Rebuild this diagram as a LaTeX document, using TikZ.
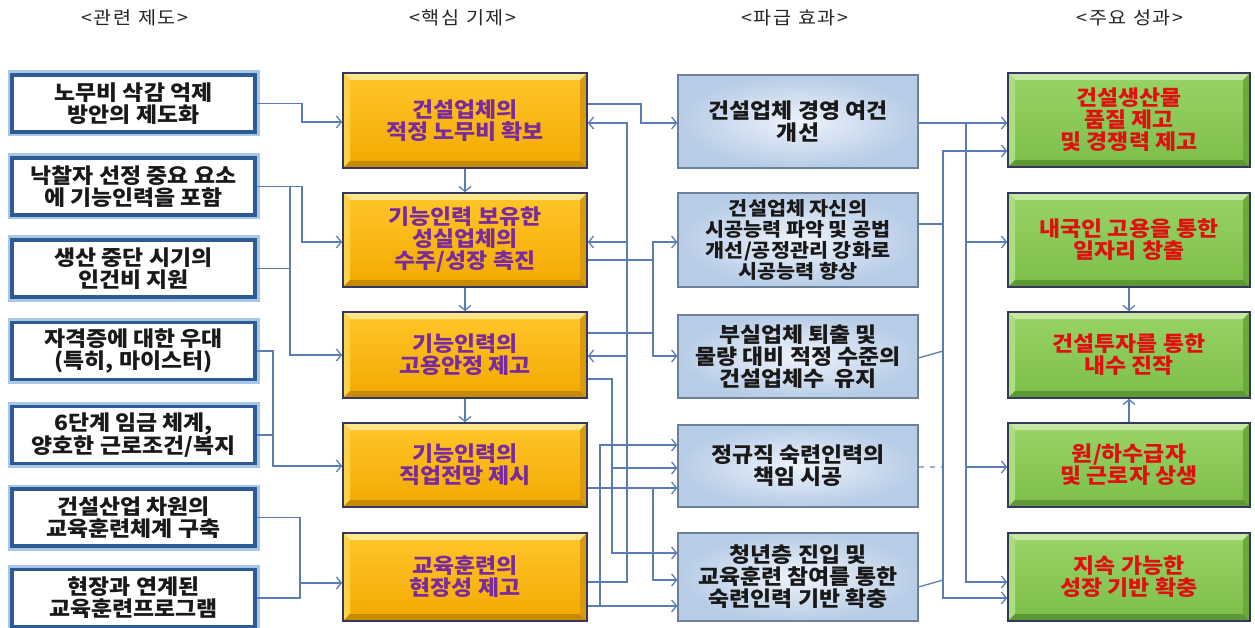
\documentclass[tikz,border=0pt]{standalone}
\usepackage{fontspec}
\setmainfont{Noto Sans CJK KR}
\newfontfamily\krw{Noto Sans CJK KR}[FakeStretch=1.09]
\newfontfamily\hdrfont{Noto Sans CJK KR}[FakeStretch=1.09, LetterSpace=10]
\usetikzlibrary{arrows.meta}
\definecolor{lnk}{HTML}{5A7DB5}
\definecolor{c1bd}{HTML}{2F5B95}
\definecolor{c1gl}{HTML}{A9C8E8}
\definecolor{orA}{HTML}{FFC62A}
\definecolor{orB}{HTML}{F2A900}
\definecolor{orT}{HTML}{FFE68C}
\definecolor{orL}{HTML}{FFD24A}
\definecolor{orBo}{HTML}{C78A00}
\definecolor{orR}{HTML}{D99A10}
\definecolor{grA}{HTML}{98D466}
\definecolor{grB}{HTML}{7DBE4A}
\definecolor{grT}{HTML}{C6E8A2}
\definecolor{grL}{HTML}{AEDD80}
\definecolor{grBo}{HTML}{5E9834}
\definecolor{grR}{HTML}{6CA83E}
\definecolor{navy}{HTML}{33395E}
\definecolor{blIn}{HTML}{EDF3FB}
\definecolor{blOut}{HTML}{B7CCE6}
\definecolor{blBd}{HTML}{6E7F99}
\definecolor{purp}{HTML}{7A2A9E}
\definecolor{redt}{HTML}{E01010}
\begin{document}
\begin{tikzpicture}[x=1pt,y=-1pt,
  txt/.style={font=\krw\bfseries\fontsize{21}{22}\selectfont, align=center, inner sep=0pt},
  bevel/.style n args={4}{path picture={
    \coordinate (NW) at (path picture bounding box.north west);
    \coordinate (NE) at (path picture bounding box.north east);
    \coordinate (SW) at (path picture bounding box.south west);
    \coordinate (SE) at (path picture bounding box.south east);
    \fill[#1] (NW) -- (NE) -- ([xshift=-7pt,yshift=-7pt]NE) -- ([xshift=7pt,yshift=-7pt]NW) -- cycle;
    \fill[#2] (NW) -- ([xshift=7pt,yshift=-7pt]NW) -- ([xshift=7pt,yshift=7pt]SW) -- (SW) -- cycle;
    \fill[#3] (SW) -- ([xshift=7pt,yshift=7pt]SW) -- ([xshift=-7pt,yshift=7pt]SE) -- (SE) -- cycle;
    \fill[#4] (SE) -- ([xshift=-7pt,yshift=7pt]SE) -- ([xshift=-7pt,yshift=-7pt]NE) -- (NE) -- cycle;
  }},
  colone/.style={txt, rectangle, minimum width=243pt, minimum height=57pt, fill=white,
    draw=c1bd, line width=3.5pt, preaction={draw=c1gl, line width=9pt}, text=black!90},
  orbox/.style={txt, rectangle, minimum width=244pt, top color=orA, bottom color=orB,
    bevel={orT}{orL}{orBo}{orR}, draw=navy, line width=1.6pt, text=purp},
  blbox/.style={txt, rectangle, minimum width=240pt, inner color=blIn, outer color=blOut,
    draw=blBd, line width=1.2pt, text=black!90},
  grbox/.style={txt, rectangle, minimum width=242pt, top color=grA, bottom color=grB,
    bevel={grT}{grL}{grBo}{grR}, draw=navy, line width=1.6pt, text=redt},
  hdr/.style={font=\hdrfont\fontsize{18}{20}\selectfont, text=black!85, inner sep=0pt},
  ln/.style={draw=lnk, line width=1.3pt},
  conn/.style={ln, -{Straight Barb[length=5pt,width=12pt]}}
]
\useasboundingbox[fill=white] (0,0) rectangle (1255,628);

% headers
\node[hdr] (h1) at (135,18) {<관련 제도>};
\node[hdr] (h2) at (463,18) {<핵심 기제>};
\node[hdr] (h3) at (795,18) {<파급 효과>};
\node[hdr] (h4) at (1130,18) {<주요 성과>};

% column 1
\node[colone] (c1) at (133.5,103.5) {노무비 삭감 억제\\방안의 제도화};
\node[colone] (c2) at (133.5,186.5) {낙찰자 선정 중요 요소\\에 기능인력을 포함};
\node[colone] (c3) at (133.5,268.5) {생산 중단 시기의\\인건비 지원};
\node[colone] (c4) at (133.5,351) {자격증에 대한 우대\\(특히, 마이스터)};
\node[colone] (c5) at (133.5,435) {6단계 임금 체계,\\양호한 근로조건/복지};
\node[colone] (c6) at (133.5,517.5) {건설산업 차원의\\교육훈련체계 구축};
\node[colone] (c7) at (133.5,598) {현장과 연계된\\교육훈련프로그램};

% column 2
\node[orbox, minimum height=95pt] (o1) at (465,120.5) {건설업체의\\적정 노무비 확보};
\node[orbox, minimum height=94pt] (o2) at (465,240) {기능인력 보유한\\성실업체의\\수주/성장 촉진};
\node[orbox, minimum height=86pt] (o3) at (465,355) {기능인력의\\고용안정 제고};
\node[orbox, minimum height=84pt] (o4) at (465,465) {기능인력의\\직업전망 제시};
\node[orbox, minimum height=88pt] (o5) at (465,577) {교육훈련의\\현장성 제고};

% column 3
\node[blbox, minimum height=93pt] (b1) at (798,121.5) {건설업체 경영 여건\\개선};
\node[blbox, minimum height=94pt, font=\krw\bfseries\fontsize{19}{21}\selectfont] (b2) at (798,240) {건설업체 자신의\\시공능력 파악 및 공법\\개선/공정관리 강화로\\시공능력 향상};
\node[blbox, minimum height=83pt] (b3) at (798,356.5) {부실업체 퇴출 및\\물량 대비 적정 수준의\\건설업체수~~유지};
\node[blbox, minimum height=82pt] (b4) at (798,466) {정규직 숙련인력의\\책임 시공};
\node[blbox, minimum height=88pt] (b5) at (798,577) {청년층 진입 및\\교육훈련 참여를 통한\\숙련인력 기반 확충};

% column 4
\node[grbox, minimum height=94pt] (g1) at (1129,120) {건설생산물\\품질 제고\\및 경쟁력 제고};
\node[grbox, minimum height=94pt] (g2) at (1129,240) {내국인 고용을 통한\\일자리 창출};
\node[grbox, minimum height=86pt] (g3) at (1129,355) {건설투자를 통한\\내수 진작};
\node[grbox, minimum height=84pt] (g4) at (1129,465) {원/하수급자\\및 근로자 상생};
\node[grbox, minimum height=88pt] (g5) at (1129,577) {지속 가능한\\성장 기반 확충};

% column 1 -> column 2
\draw[conn] (c1.east) -| (302,122) -- (o1.west |- 0,122);
\draw[conn] (c2.east) -| (302,242) -- (o2.west |- 0,242);
\draw[conn] (c2.east) -| (290,355) -- (o3.west);
\draw[ln] (c3.east) -- (c3.east -| 290,0);
\draw[conn] (c4.east) -| (273,466) -- (o4.west |- 0,466);
\draw[ln] (c5.east) -- (c5.east -| 273,0);
\draw[conn] (c6.east) -| (300,583) -- (o5.west |- 0,583);
\draw[ln] (c7.east) -| (300,583);

% column 2 internal
\draw[conn] (o1.south) -- (o2.north);
\draw[conn] (o2.south) -- (o3.north);
\draw[conn] (o3.south) -- (o4.north);

% column 2 -> column 3
\draw[conn] (o1.east |- 0,104) -| (641,123) -- (b1.west |- 0,123);
\draw[conn] (o5.east |- 0,582) -| (627,123) -- (o1.east |- 0,123);
\draw[conn] (627,242) -- (o2.east |- 0,242);
\draw[conn] (627,356) -- (o3.east |- 0,356);
\draw[conn] (o2.east |- 0,260) -| (653,242) -- (b2.west |- 0,242);
\draw[conn] (o2.east |- 0,260) -| (653,356) -- (b3.west |- 0,356);
\draw[ln] (o3.east |- 0,333) -- (653,333);
\draw[conn] (o3.east |- 0,379) -| (612,553) -- (b5.west |- 0,553);
\draw[conn] (612,468) -- (b4.west |- 0,468);
\draw[conn] (o5.east |- 0,606) -- (b5.west |- 0,606);
\draw[conn] (600,606) |- (b4.west |- 0,445);
\draw[conn] (o4.east |- 0,488) -- (b4.west |- 0,488);
\draw[conn] (653,488) |- (b5.west |- 0,580);

% column 3 -> column 4
\draw[conn] (b1.east |- 0,123) -- (g1.west |- 0,123);
\draw[conn] (966,123) |- (g2.west |- 0,242);
\draw[conn] (966,123) |- (g4.west |- 0,467);
\draw[conn] (966,123) |- (g5.west |- 0,582);
\draw[conn] (b2.east |- 0,224) -| (943,151) -- (g1.west |- 0,151);
\draw[conn] (943,224) |- (g5.west |- 0,598);
\draw[ln] (b3.east |- 0,358) -- (943,351);
\draw[ln, dash pattern=on 5pt off 6pt, draw opacity=0.6] (b4.east |- 0,467) -- (943,467);
\draw[ln] (b5.east |- 0,587) -- (943,580);

% column 4 internal
\draw[conn] (g2.south) -- (g3.north);
\draw[conn] (g4.north) -- (g3.south);
\end{tikzpicture}
\end{document}
